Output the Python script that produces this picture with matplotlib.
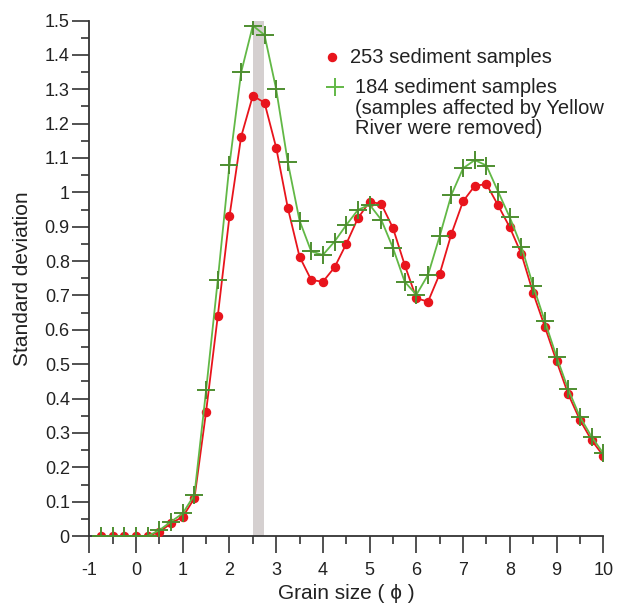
import matplotlib
matplotlib.use("Agg")
import matplotlib.pyplot as plt
from matplotlib.ticker import MultipleLocator, FormatStrFormatter

plt.rcParams['font.family'] = ['Liberation Sans', 'DejaVu Sans']

# grain size (phi) and standard deviation of the two sample sets
phi = [-0.75, -0.5, -0.25, 0, 0.25, 0.5, 0.75, 1.0, 1.25, 1.5, 1.75, 2.0, 2.25,
       2.5, 2.75, 3.0, 3.25, 3.5, 3.75, 4.0, 4.25, 4.5, 4.75, 5.0, 5.25, 5.5,
       5.75, 6.0, 6.25, 6.5, 6.75, 7.0, 7.25, 7.5, 7.75, 8.0, 8.25, 8.5, 8.75,
       9.0, 9.25, 9.5, 9.75, 10.0]
sd_253 = [0, 0, 0, 0, 0, 0.012, 0.037, 0.056, 0.11, 0.362, 0.64, 0.93, 1.162,
          1.281, 1.261, 1.13, 0.954, 0.813, 0.745, 0.74, 0.782, 0.85, 0.925,
          0.973, 0.966, 0.896, 0.789, 0.692, 0.682, 0.763, 0.879, 0.974, 1.019,
          1.024, 0.962, 0.898, 0.82, 0.707, 0.609, 0.509, 0.413, 0.338, 0.279,
          0.234]
sd_184 = [0, 0, 0, 0, 0, 0.017, 0.042, 0.066, 0.12, 0.424, 0.745, 1.08, 1.349,
          1.485, 1.458, 1.30, 1.087, 0.918, 0.828, 0.818, 0.857, 0.905, 0.949,
          0.964, 0.920, 0.838, 0.740, 0.702, 0.760, 0.873, 0.993, 1.070, 1.094,
          1.078, 1.002, 0.927, 0.842, 0.728, 0.625, 0.522, 0.427, 0.347, 0.289,
          0.241]
band = (2.5, 2.73)

RED = '#e8141c'
GREEN_LINE = '#62b846'
GREEN_MARK = '#4e8e30'
TXT = '#222222'

fig = plt.figure(figsize=(6.2, 6.03), dpi=100)
ax = fig.add_axes([0.144, 0.111, 0.829, 0.855])

ax.axvspan(*band, color='#d5d0d0', lw=0, zorder=1)
ax.plot(phi, sd_253, color=RED, lw=1.3, marker='o', ms=5.8,
        mfc=RED, mec=RED, zorder=3)
ax.plot(phi, sd_184, color=GREEN_LINE, lw=1.3, zorder=4)
ax.plot(phi, sd_184, ls='none', marker='+', ms=13, mew=1.4,
        color=GREEN_MARK, zorder=5)

ax.set_xlim(-1, 10)
ax.set_ylim(0, 1.5)
ax.xaxis.set_major_locator(MultipleLocator(1))
ax.xaxis.set_minor_locator(MultipleLocator(0.5))
ax.yaxis.set_major_locator(MultipleLocator(0.1))
ax.yaxis.set_minor_locator(MultipleLocator(0.05))
ax.yaxis.set_major_formatter(FormatStrFormatter('%g'))
ax.xaxis.set_major_formatter(FormatStrFormatter('%g'))

for s in ['top', 'right']:
    ax.spines[s].set_visible(False)
for s in ['left', 'bottom']:
    ax.spines[s].set_linewidth(1.3)
    ax.spines[s].set_color('#333333')

ax.tick_params(axis='both', which='major', length=12.5, width=1.2,
               colors='#333333', labelsize=13, labelcolor=TXT)
ax.tick_params(axis='both', which='minor', length=6, width=1.2, colors='#333333')
ax.tick_params(axis='y', which='major', pad=1.5)
ax.tick_params(axis='x', which='major', pad=6)

ax.set_xlabel('Grain size ( \u03d5 )', fontsize=15, color=TXT, labelpad=4)
ax.set_ylabel('Standard deviation', fontsize=15, color=TXT, labelpad=9)

# legend drawn by hand so the cross sits on the first text line
ax.plot([0.4716], [0.930], 'o', ms=5.8, color=RED, transform=ax.transAxes,
        clip_on=False)
ax.text(0.507, 0.928, '253 sediment samples', transform=ax.transAxes,
        fontsize=14.5, color=TXT, va='center', ha='left')
ax.plot([0.478], [0.871], '+', ms=13, mew=1.4, color=GREEN_LINE,
        transform=ax.transAxes, clip_on=False)
ax.text(0.517, 0.889, '184 sediment samples\n(samples affected by Yellow\nRiver were removed)',
        transform=ax.transAxes, fontsize=14.5, color=TXT, va='top', ha='left',
        linespacing=1.12)

fig.savefig('out.png', dpi=100)
